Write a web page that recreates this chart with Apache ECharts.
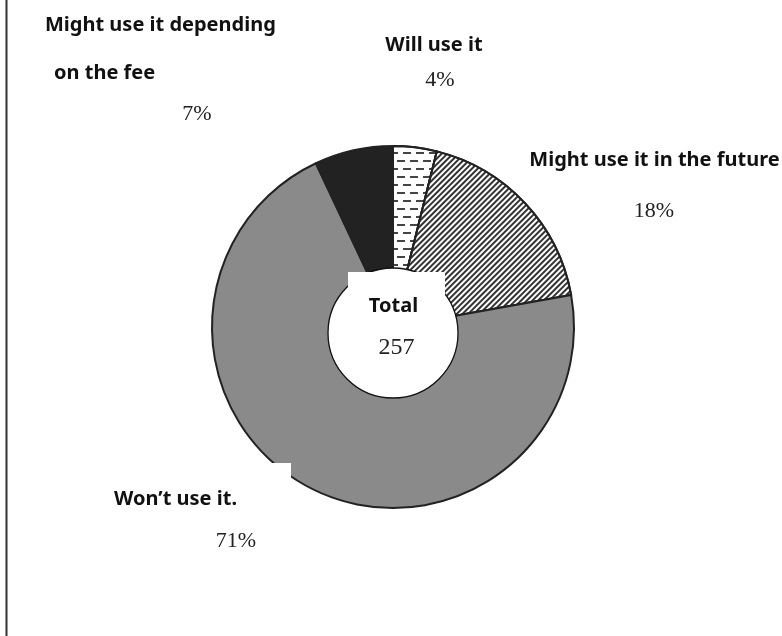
<!DOCTYPE html>
<html>
<head>
<meta charset="utf-8">
<script src="https://cdn.jsdelivr.net/npm/echarts@6/dist/echarts.min.js"></script>
<style>
html,body{margin:0;padding:0;background:#fff;}
#chart{width:782px;height:636px;}
</style>
</head>
<body>
<div id="chart"></div>
<script>
// ---- data ----
const categories = ['Will use it', 'Might use it in the future', 'Won\u2019t use it.', 'Might use it depending\non the fee'];
const counts = [10, 47, 182, 18];
const centerTitle = 'Total';

// ---- layout / style (not data) ----
const namePos = [
  [434, 45, 'center', 'middle'],
  [654.5, 160, 'center', 'middle'],
  [291, 463, 'right', 'top'],
  [45, 1, 'left', 'top']
];
const pctPos = [
  [440, 80],
  [654, 211],
  [236, 541],
  [197, 114]
];
const sliceStyles = [
  { color: '#ffffff', decal: { symbol: 'rect', symbolSize: 1, color: '#444', backgroundColor: null,
      dashArrayX: [[8, 5], [2, 5, 6, 0]], dashArrayY: [2, 6], rotation: 0 } },
  { color: '#ffffff', decal: { symbol: 'rect', symbolSize: 1, color: '#333', backgroundColor: null,
      dashArrayX: [[1, 0]], dashArrayY: [1.5, 1.5], rotation: -Math.PI / 4 } },
  { color: '#8a8a8a' },
  { color: '#222222' }
];

const total = counts.reduce((a, b) => a + b, 0);
const SANS = '"Noto Sans", "Liberation Sans", Arial, sans-serif';
const SERIF = '"Liberation Serif", "DejaVu Serif", serif';
const NAME_SIZE = 20;

const mainData = categories.map((c, i) => {
  const item = {
    name: c, value: counts[i],
    itemStyle: Object.assign({ borderColor: '#222', borderWidth: 2 }, sliceStyles[i])
  };
  if (i === 2) {
    item.label = { backgroundColor: '#ffffff', padding: [25, 54, 10, 10] };
  }
  return item;
});
const pctData = categories.map((c, i) => ({ name: c, value: counts[i] }));

const chart = echarts.init(document.getElementById('chart'), null, { renderer: 'canvas' });
chart.setOption({
  animation: false,
  backgroundColor: '#ffffff',
  graphic: [{
    type: 'line', silent: true,
    shape: { x1: 6.5, y1: 0, x2: 6.5, y2: 636 },
    style: { stroke: '#333', lineWidth: 2 }
  }],
  series: [
    {
      type: 'pie',
      center: [393, 327],
      radius: [0, 181],
      startAngle: 90,
      clockwise: true,
      avoidLabelOverlap: false,
      silent: true,
      emphasis: { disabled: true },
      data: mainData,
      label: {
        show: true,
        position: 'inside',
        color: '#111',
        formatter: function (p) {
          const lines = p.name.split('\n');
          if (lines.length > 1) {
            return '{a|' + lines[0] + '}\n{b|' + lines[1] + '}';
          }
          return '{s|' + p.name + '}';
        },
        rich: {
          s: { fontFamily: SANS, fontWeight: 'bold', fontSize: NAME_SIZE, lineHeight: 22, color: '#111' },
          a: { fontFamily: SANS, fontWeight: 'bold', fontSize: NAME_SIZE, lineHeight: 48, color: '#111' },
          b: { fontFamily: SANS, fontWeight: 'bold', fontSize: NAME_SIZE, lineHeight: 48, color: '#111', padding: [0, 0, 0, 9] }
        }
      },
      labelLine: { show: false },
      labelLayout: function (params) {
        const p = namePos[params.dataIndex];
        return { x: p[0], y: p[1], align: p[2], verticalAlign: p[3] };
      }
    },
    {
      type: 'pie',
      center: [393, 327],
      radius: [0, 181],
      startAngle: 90,
      clockwise: true,
      avoidLabelOverlap: false,
      silent: true,
      emphasis: { disabled: true },
      itemStyle: { color: 'rgba(0,0,0,0)', borderWidth: 0 },
      data: pctData,
      label: {
        show: true,
        position: 'inside',
        fontFamily: SERIF,
        fontSize: 22,
        color: '#222',
        formatter: function (p) { return Math.round(p.percent) + '%'; }
      },
      labelLine: { show: false },
      labelLayout: function (params) {
        const p = pctPos[params.dataIndex];
        return { x: p[0], y: p[1], align: 'center', verticalAlign: 'middle' };
      }
    },
    {
      type: 'pie',
      center: [393, 333],
      radius: [0, 65],
      silent: true,
      emphasis: { disabled: true },
      itemStyle: { color: '#ffffff', borderColor: '#111', borderWidth: 1.3 },
      data: [{ name: centerTitle, value: total }],
      label: {
        show: true,
        position: 'center',
        backgroundColor: '#ffffff',
        width: 97,
        align: 'center',
        padding: [22, 0, 6, 0],
        formatter: function (p) { return '{t|' + p.name + '}\n{g|}\n{v|' + p.value + '}'; },
        rich: {
          t: { fontFamily: SANS, fontWeight: 'bold', fontSize: NAME_SIZE, lineHeight: 24, color: '#111', padding: [0, 6, 0, 0] },
          g: { lineHeight: 18, fontSize: 10 },
          v: { fontFamily: SERIF, fontSize: 24, lineHeight: 24, color: '#222' }
        }
      },
      labelLine: { show: false },
      labelLayout: function () {
        return { x: 396.5, y: 272, align: 'center', verticalAlign: 'top' };
      }
    }
  ]
});
</script>
</body>
</html>
